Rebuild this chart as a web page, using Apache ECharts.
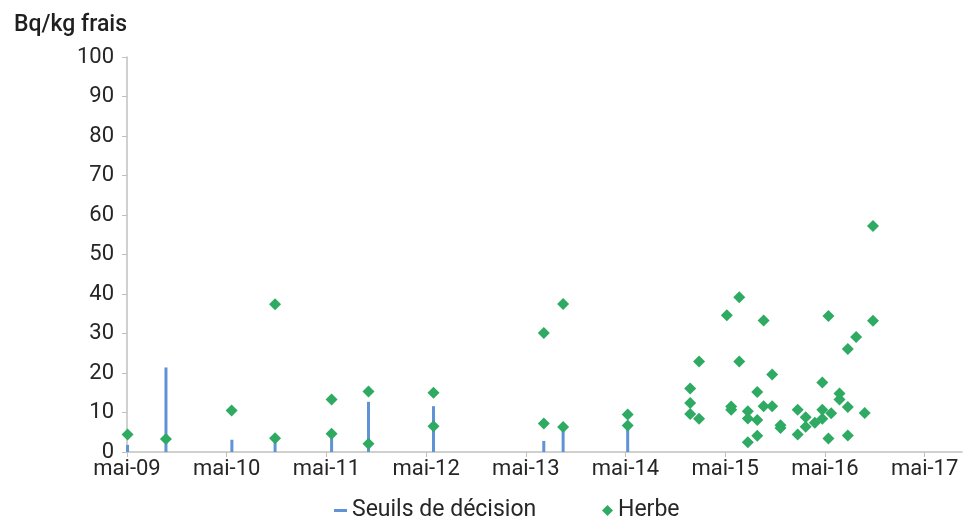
<!DOCTYPE html>
<html>
<head>
<meta charset="utf-8">
<script src="https://cdn.jsdelivr.net/npm/echarts@6/dist/echarts.min.js"></script>
<style>html,body{margin:0;padding:0;background:#fff}#c{width:964px;height:517px}</style>
</head>
<body>
<div id="c"></div>
<script>
var yTicks = [0,10,20,30,40,50,60,70,80,90,100];
var xTickLabels = ['mai-09','mai-10','mai-11','mai-12','mai-13','mai-14','mai-15','mai-16','mai-17'];
var seuilDates = ['2009-05-03','2009-09-22','2010-05-20','2010-10-26','2011-05-20','2011-10-03','2012-05-28','2013-07-06','2013-09-16','2014-05-09'];
var seuilValues = [1.8,21.4,3.1,2.5,4.0,12.7,11.6,2.8,5.5,6.5];
var herbeDates = ['2009-05-03','2009-09-22','2010-05-19','2010-10-26','2010-10-26','2011-05-20','2011-05-20','2011-10-03','2011-10-03','2012-05-28','2012-05-28','2013-07-06','2013-07-06','2013-09-16','2013-09-16','2014-05-09','2014-05-09','2014-12-25','2014-12-25','2014-12-25','2015-01-27','2015-01-27','2015-05-07','2015-05-23','2015-05-23','2015-06-22','2015-06-22','2015-07-23','2015-07-23','2015-07-23','2015-08-27','2015-08-27','2015-08-27','2015-09-20','2015-09-20','2015-10-21','2015-10-21','2015-11-21','2015-11-21','2016-01-23','2016-01-23','2016-02-22','2016-02-22','2016-03-25','2016-04-22','2016-04-22','2016-04-22','2016-05-14','2016-05-14','2016-05-24','2016-06-24','2016-06-24','2016-07-24','2016-07-24','2016-07-24','2016-08-24','2016-09-25','2016-10-25','2016-10-25'];
var herbeValues = [4.4,3.3,10.5,37.4,3.5,13.3,4.6,15.3,2.1,15.0,6.5,30.1,7.2,37.5,6.3,9.5,6.7,16.1,12.4,9.6,22.9,8.4,34.6,11.5,10.7,39.2,22.9,10.3,8.5,2.5,15.2,8.1,4.1,33.3,11.6,19.6,11.6,6.8,6.1,10.7,4.4,8.8,6.4,7.4,17.6,10.7,8.4,34.4,3.4,9.8,14.8,13.3,26.1,11.4,4.2,29.1,9.9,57.2,33.2];

function monthIndex(s){
  var p = s.split('-').map(Number);
  return (p[0]-2009)*12 + (p[1]-5) + (p[2]-1)/30.44;
}
var seuilData = seuilDates.map(function(d,i){return [monthIndex(d), seuilValues[i]];});
var herbeData = herbeDates.map(function(d,i){return [monthIndex(d), herbeValues[i]];});

var FONT = 'Roboto';
var BLUE = '#5f93d6';
var GREEN = '#2eaa63';
var chart = echarts.init(document.getElementById('c'));
chart.setOption({
  animation:false,
  title:{text:'Bq/kg frais', left:9, top:9, textStyle:{fontFamily:FONT, fontSize:23, fontWeight:500, color:'#1f1f1f'}},
  grid:{left:127, right:2, top:57, bottom:65, containLabel:false},
  legend:[
    {left:329, top:494, itemWidth:13, itemHeight:3, icon:'rect',
     textStyle:{fontFamily:FONT, fontSize:23, color:'#262626'},
     data:['Seuils de décision']},
    {left:597, top:494, itemWidth:11, itemHeight:11, icon:'diamond', itemGap:4,
     textStyle:{fontFamily:FONT, fontSize:23, color:'#262626'},
     data:['Herbe']}
  ],
  xAxis:{
    type:'value', min:0, max:100.5, interval:12,
    axisLine:{lineStyle:{color:'#c0c0c0', width:1.5}},
    axisTick:{show:true, length:5, lineStyle:{color:'#c0c0c0'}},
    splitLine:{show:false},
    axisLabel:{margin:6, fontFamily:FONT, fontSize:22, color:'#262626', showMaxLabel:false,
      formatter:function(v){var i=Math.round(v/12); return xTickLabels[i]||'';}}
  },
  yAxis:{
    type:'value', min:yTicks[0], max:yTicks[yTicks.length-1], interval:10,
    axisLine:{show:true, lineStyle:{color:'#c0c0c0', width:1.5}},
    axisTick:{show:true, length:5, lineStyle:{color:'#c0c0c0'}},
    splitLine:{show:false},
    axisLabel:{margin:13, fontFamily:FONT, fontSize:22, color:'#262626'}
  },
  series:[
    {name:'Seuils de décision', type:'bar', data:seuilData, barWidth:3, itemStyle:{color:BLUE, opacity:1}, z:2},
    {name:'Herbe', type:'scatter', data:herbeData, symbol:'diamond', symbolSize:12, clip:false, itemStyle:{color:GREEN, opacity:1}, z:3}
  ]
});
</script>
</body>
</html>
